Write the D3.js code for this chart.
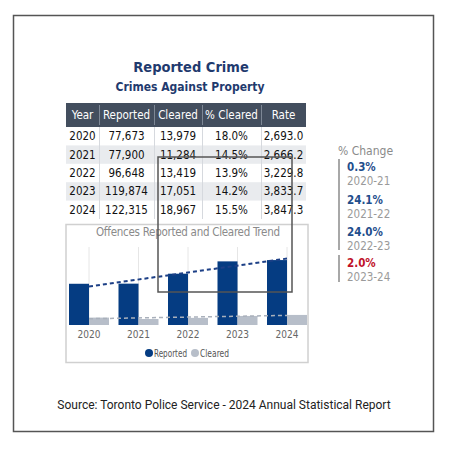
<!DOCTYPE html>
<html>
<head>
<meta charset="utf-8">
<script src="https://cdn.jsdelivr.net/npm/d3@7"></script>
<style>
  body { margin: 0; background: #fff; }
  svg { display: block; }
</style>
</head>
<body>
<svg id="svg" width="450" height="450"></svg>
<script>
// data
var years = ["2020", "2021", "2022", "2023", "2024"];
var reported = [77673, 77900, 96648, 119874, 122315];
var cleared = [13979, 11284, 13419, 17051, 18967];
var pctCleared = [18.0, 14.5, 13.9, 14.2, 15.5];
var rate = [2693.0, 2666.2, 3229.8, 3833.7, 3847.3];
var headers = ["Year", "Reported", "Cleared", "% Cleared", "Rate"];
var changePeriods = ["2020-21", "2021-22", "2022-23", "2023-24"];
var changeValues = [0.3, 24.1, 24.0, 2.0];

var navy = "#053c82";
var grey = "#b7bec9";
var font = "'DejaVu Sans Condensed', 'DejaVu Sans', sans-serif";

var svg = d3.select("#svg");

// outer frame
svg.append("rect")
    .attr("x", 13.5).attr("y", 15.5)
    .attr("width", 420).attr("height", 416)
    .attr("fill", "none").attr("stroke", "#555").attr("stroke-width", 1.5);

// titles
svg.append("text")
    .attr("x", 191).attr("y", 72)
    .attr("text-anchor", "middle")
    .style("font", "bold 14.5px " + font)
    .attr("fill", "#1f3a6e")
    .text("Reported Crime");
svg.append("text")
    .attr("x", 190).attr("y", 91)
    .attr("text-anchor", "middle")
    .style("font", "bold 12px " + font)
    .attr("fill", "#1f3a6e")
    .text("Crimes Against Property");

// ---- table ----
var colEdges = [66, 99, 154, 202, 261, 306];
var headTop = 103, headBottom = 127, tableBottom = 219;
var rowY = d3.scaleBand().domain(years).range([headBottom, tableBottom]);

var fmtInt = d3.format(",");
var fmtRate = d3.format(",.1f");
var rows = years.map(function (y, i) {
    return [y, fmtInt(reported[i]), fmtInt(cleared[i]), pctCleared[i].toFixed(1) + "%", fmtRate(rate[i])];
});

var table = svg.append("g");
table.append("rect")
    .attr("x", colEdges[0]).attr("y", headTop)
    .attr("width", colEdges[5] - colEdges[0]).attr("height", headBottom - headTop)
    .attr("fill", "#434e5e");

table.selectAll(".band")
    .data(years.filter(function (d, i) { return i % 2 == 1; }))
    .enter().append("rect")
    .attr("x", colEdges[0]).attr("y", function (d) { return rowY(d); })
    .attr("width", colEdges[5] - colEdges[0]).attr("height", rowY.bandwidth())
    .attr("fill", "#e9ebee");

// column separators
colEdges.slice(1, 5).forEach(function (x) {
    table.append("line")
        .attr("x1", x + 0.5).attr("x2", x + 0.5)
        .attr("y1", headTop + 2).attr("y2", headBottom - 2)
        .attr("stroke", "#7d8795");
    table.append("line")
        .attr("x1", x + 0.5).attr("x2", x + 0.5)
        .attr("y1", headBottom).attr("y2", tableBottom)
        .attr("stroke", "#d6d9de");
});

headers.forEach(function (h, c) {
    table.append("text")
        .attr("x", (colEdges[c] + colEdges[c + 1]) / 2)
        .attr("y", (headTop + headBottom) / 2 + 4)
        .attr("text-anchor", "middle")
        .style("font", "11.5px " + font)
        .attr("fill", "#fff")
        .text(h);
});

rows.forEach(function (r, i) {
    r.forEach(function (v, c) {
        table.append("text")
            .attr("x", (colEdges[c] + colEdges[c + 1]) / 2)
            .attr("y", rowY(years[i]) + rowY.bandwidth() / 2 + 4)
            .attr("text-anchor", "middle")
            .style("font", "11.5px " + font)
            .attr("fill", "#111")
            .text(v);
    });
});

// ---- trend chart ----
var panel = svg.append("g");
panel.append("rect")
    .attr("x", 66).attr("y", 224.5)
    .attr("width", 242).attr("height", 138)
    .attr("fill", "#fff").attr("stroke", "#d0d0d0").attr("stroke-width", 1.5);

panel.append("text")
    .attr("x", 188).attr("y", 235.5)
    .attr("text-anchor", "middle")
    .style("font", "11.5px " + font)
    .attr("textLength", 184)
    .attr("fill", "#8a8a8a")
    .text("Offences Reported and Cleared Trend");

var xScale = d3.scaleBand().domain(years).range([64.25, 311.75]);
var xSub = d3.scaleBand().domain(["reported", "cleared"])
    .range([xScale.bandwidth() / 2 - 20, xScale.bandwidth() / 2 + 20]);
var yScale = d3.scaleLinear().domain([0, 130000]).range([325, 256]);

var cx = function (d) { return xScale(d) + xScale.bandwidth() / 2; };

panel.selectAll(".grid")
    .data(years).enter().append("line")
    .attr("x1", cx).attr("x2", cx)
    .attr("y1", 247).attr("y2", 325)
    .attr("stroke", "#e6e6e6");

var series = [
    {key: "reported", values: reported, color: navy},
    {key: "cleared", values: cleared, color: grey}
];

series.forEach(function (s) {
    panel.selectAll(".bar-" + s.key)
        .data(s.values).enter().append("rect")
        .attr("x", function (d, i) { return xScale(years[i]) + xSub(s.key); })
        .attr("y", function (d) { return yScale(d); })
        .attr("width", xSub.bandwidth())
        .attr("height", function (d) { return yScale(0) - yScale(d); })
        .attr("fill", s.color);
});

// linear trend lines (least squares over the five years)
function trend(vals) {
    var n = vals.length, mx = (n - 1) / 2, my = d3.mean(vals);
    var num = d3.sum(vals, function (v, i) { return (i - mx) * (v - my); });
    var den = d3.sum(vals, function (v, i) { return (i - mx) * (i - mx); });
    var b = num / den;
    return [my - b * mx, my + b * (n - 1 - mx)];
}
[
    {vals: reported, color: "#1c3f86", w: 2},
    {vals: cleared, color: "#a9b0bb", w: 1.5}
].forEach(function (t) {
    var ends = trend(t.vals);
    panel.append("line")
        .attr("x1", cx(years[0])).attr("y1", yScale(ends[0]))
        .attr("x2", cx(years[years.length - 1])).attr("y2", yScale(ends[1]))
        .attr("stroke", t.color).attr("stroke-width", t.w)
        .attr("stroke-dasharray", "4,3");
});

var xAxis = panel.append("g")
    .attr("transform", "translate(0,327)")
    .call(d3.axisBottom(xScale).tickSize(0).tickPadding(4));
xAxis.select(".domain").remove();
xAxis.selectAll("text")
    .style("font", "10px " + font)
    .attr("fill", "#666");

// legend
var legend = [{label: "Reported", color: navy, x: 149, w: 33}, {label: "Cleared", color: grey, x: 195, w: 29}];
legend.forEach(function (l) {
    panel.append("circle")
        .attr("cx", l.x).attr("cy", 353).attr("r", 4)
        .attr("fill", l.color);
    panel.append("text")
        .attr("x", l.x + 5).attr("y", 356.5)
        .style("font", "10.5px " + font)
        .attr("textLength", l.w)
        .attr("lengthAdjust", "spacingAndGlyphs")
        .attr("fill", "#555")
        .text(l.label);
});

// ---- % change column ----
var chg = svg.append("g");
chg.append("text")
    .attr("x", 338).attr("y", 155)
    .style("font", "12px " + font)
    .attr("fill", "#8a8a8a")
    .text("% Change");
chg.append("line")
    .attr("x1", 339).attr("x2", 339).attr("y1", 159).attr("y2", 250)
    .attr("stroke", "#a8a8a8").attr("stroke-width", 2);
chg.append("line")
    .attr("x1", 339).attr("x2", 339).attr("y1", 255).attr("y2", 282)
    .attr("stroke", "#a8a8a8").attr("stroke-width", 2);

var chgTop = [167, 200, 232, 263];
changeValues.forEach(function (v, i) {
    chg.append("text")
        .attr("x", 347).attr("y", chgTop[i] + 4)
        .style("font", "bold 11.5px " + font)
        .attr("fill", i == 3 ? "#c0122a" : "#1f4e8c")
        .text(v.toFixed(1) + "%");
    chg.append("text")
        .attr("x", 347).attr("y", chgTop[i] + 18)
        .style("font", "11.5px " + font)
        .attr("fill", "#9a9a9a")
        .text(changePeriods[i]);
});

// the grey box drawn over the table and chart
svg.append("rect")
    .attr("x", 158).attr("y", 157)
    .attr("width", 134).attr("height", 135)
    .attr("fill", "none").attr("stroke", "#555").attr("stroke-width", 1.5);

// source line
svg.append("text")
    .attr("x", 224).attr("y", 409)
    .attr("text-anchor", "middle")
    .style("font", "12px Roboto, sans-serif")
    .attr("fill", "#222")
    .text("Source: Toronto Police Service - 2024 Annual Statistical Report");
</script>
</body>
</html>
